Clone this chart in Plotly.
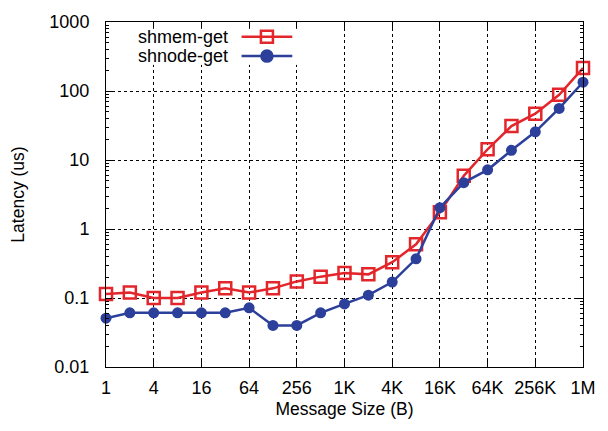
import math
import plotly.graph_objects as go

# Message sizes: 1 B .. 1 MB in powers of two
sizes = [2 ** k for k in range(21)]

shmem_get = [0.114, 0.12, 0.10, 0.10, 0.12, 0.138, 0.12, 0.138, 0.174, 0.204, 0.23,
             0.22, 0.33, 0.60, 1.75, 5.9, 14.3, 31, 47, 88, 215]
shnode_get = [0.051, 0.061, 0.061, 0.061, 0.061, 0.061, 0.072, 0.040, 0.040, 0.061, 0.082,
              0.11, 0.17, 0.37, 2.04, 4.7, 7.2, 13.8, 25.6, 56, 134]

x_tick_vals = [1, 4, 16, 64, 256, 1024, 4096, 16384, 65536, 262144, 1048576]
x_tick_text = ["1", "4", "16", "64", "256", "1K", "4K", "16K", "64K", "256K", "1M"]
y_tick_vals = [0.01, 0.1, 1, 10, 100, 1000]
y_tick_text = ["0.01", "0.1", "1", "10", "100", "1000"]

series_names = ["shmem-get", "shnode-get"]
RED = "#e3262b"
BLUE = "#2b3f9b"
FONT = "Liberation Sans, Arial, Helvetica, sans-serif"

fig = go.Figure()

fig.add_trace(go.Scatter(
    x=sizes, y=shmem_get, mode="lines+markers", name=series_names[0],
    line=dict(color=RED, width=2.5),
    marker=dict(symbol="square-open", size=12, color=RED, line=dict(width=2.5, color=RED)),
    showlegend=False, cliponaxis=False,
))
fig.add_trace(go.Scatter(
    x=sizes, y=shnode_get, mode="lines+markers", name=series_names[1],
    line=dict(color=BLUE, width=2.5),
    marker=dict(symbol="circle", size=11, color=BLUE),
    showlegend=False, cliponaxis=False,
))

# Key box: opaque area over the grid, label on the left, line sample with marker on the right
fig.add_shape(type="rect", xref="x2 domain", yref="y2 domain", x0=0, x1=1, y0=0, y1=1,
              fillcolor="white", line=dict(width=0), layer="below")
key_x = [0, 1, 2]
key_label_y = [0.9577, 0.9014]
for i, (name, color, sym, sz) in enumerate([
        (series_names[0], RED, "square-open", 12),
        (series_names[1], BLUE, "circle", 11)]):
    fig.add_trace(go.Scatter(
        x=key_x, y=[i, i, i], mode="lines", xaxis="x2", yaxis="y2",
        line=dict(color=color, width=2.5), showlegend=False, hoverinfo="skip",
        cliponaxis=False,
    ))
    fig.add_trace(go.Scatter(
        x=[key_x[1]], y=[i], mode="markers", xaxis="x2", yaxis="y2",
        marker=dict(symbol=sym, size=sz, color=color, line=dict(width=2.5, color=color)),
        showlegend=False, hoverinfo="skip", cliponaxis=False,
    ))
    fig.add_annotation(
        x=0.2597, y=key_label_y[i], xref="paper", yref="paper", text=name,
        showarrow=False, xanchor="right", yanchor="middle",
        font=dict(family=FONT, size=18, color="black"),
    )

axis_common = dict(
    showline=True, linecolor="black", linewidth=1, mirror="allticks",
    ticks="inside", ticklen=6, tickcolor="black", tickwidth=1,
    showgrid=True, gridcolor="black", gridwidth=1, griddash="dot",
    zeroline=False, tickfont=dict(family=FONT, size=18, color="black"),
)

fig.update_layout(
    width=608, height=431,
    margin=dict(l=106, r=13, t=13, b=64),
    paper_bgcolor="white", plot_bgcolor="white",
    font=dict(family=FONT, size=17.5, color="black"),
    xaxis=dict(
        type="log", range=[0, math.log10(2 ** 20)],
        tickmode="array", tickvals=x_tick_vals, ticktext=x_tick_text,
        ticklabelstandoff=4, ticklabeloverflow="allow",
        title=dict(text="Message Size (B)", font=dict(family=FONT, size=17.5), standoff=6),
        **axis_common,
    ),
    yaxis=dict(
        type="log", range=[-2, 3],
        tickmode="array", tickvals=y_tick_vals, ticktext=y_tick_text,
        ticklabelstandoff=12,
        minor=dict(ticks="inside", ticklen=3, tickcolor="black", showgrid=False,
                   tickvals=[m * 10 ** e for e in range(-2, 3) for m in range(2, 10)]),
        title=dict(text="Latency (us)", font=dict(family=FONT, size=17.5), standoff=20),
        **axis_common,
    ),
    xaxis2=dict(domain=[0.0123, 0.4335], range=[-5.115, 2.808], visible=False, anchor="y2"),
    yaxis2=dict(domain=[0.8757, 0.9802], range=[1.45, -0.4], visible=False, anchor="x2"),
)

fig.write_html("out.html")
